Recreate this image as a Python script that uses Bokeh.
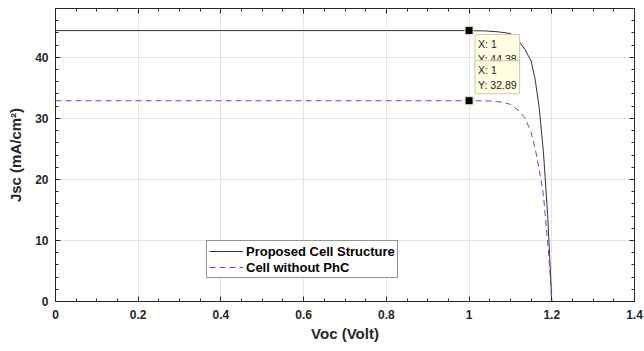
from bokeh.plotting import figure
from bokeh.models import (Label, LinearAxis, FixedTicker, NumeralTickFormatter,
                          Range1d, ColumnDataSource)
from bokeh.embed import file_html
from bokeh.resources import INLINE

# ---- data ----
voc_proposed = [0.0, 0.2, 0.4, 0.6, 0.8, 0.9, 1.0, 1.04, 1.07, 1.10, 1.12, 1.135,
                1.15, 1.16, 1.17, 1.18, 1.19, 1.195, 1.2]
jsc_proposed = [44.38, 44.38, 44.38, 44.38, 44.38, 44.38, 44.38, 44.32, 44.18, 43.9,
                42.7, 41.3, 39.4, 36.3, 31.5, 24.3, 14.2, 7.2, 0.0]

voc_nophc = [0.0, 0.2, 0.4, 0.6, 0.8, 0.9, 1.0, 1.05, 1.08, 1.10, 1.12, 1.135,
             1.15, 1.16, 1.17, 1.18, 1.185, 1.19, 1.195, 1.2]
jsc_nophc = [32.89, 32.89, 32.89, 32.89, 32.89, 32.89, 32.89, 32.85, 32.65, 32.3,
             31.3, 30.1, 27.7, 25.0, 21.5, 17.3, 13.5, 9.8, 5.5, 0.0]

tip_x = [1, 1]
tip_y = [44.38, 32.89]

x_ticks = [0, 0.2, 0.4, 0.6, 0.8, 1.0, 1.2, 1.4]
y_ticks = [0, 10, 20, 30, 40]

series_names = ["Proposed Cell Structure", "Cell without PhC"]
x_label = "Voc (Volt)"
y_label = "Jsc (mA/cm\u00b2)"

FONT = "Liberation Sans"
DARK = "#262626"

x_minor = [round(i * 0.05, 2) for i in range(0, 29)]
y_minor = [i * 2 for i in range(0, 25)]

p = figure(width=644, height=351, x_range=Range1d(0, 1.4), y_range=Range1d(0, 48),
           output_backend="svg", toolbar_location=None,
           min_border_left=55, min_border_right=10, min_border_top=8, min_border_bottom=50)
p.background_fill_color = "white"
p.border_fill_color = "white"
p.outline_line_color = DARK
p.outline_line_width = 1

xt = FixedTicker(ticks=x_ticks, minor_ticks=x_minor)
yt = FixedTicker(ticks=y_ticks, minor_ticks=y_minor)

p.xaxis.ticker = xt
p.yaxis.ticker = yt
p.xaxis.formatter = NumeralTickFormatter(format="0.[0]")
p.xgrid.ticker = xt
p.ygrid.ticker = yt
p.grid.grid_line_color = "#e3e3e3"
p.grid.grid_line_width = 1

for ax in (p.xaxis[0], p.yaxis[0]):
    ax.axis_line_color = DARK
    ax.major_tick_line_color = DARK
    ax.minor_tick_line_color = DARK
    ax.major_tick_in = 5
    ax.major_tick_out = 0
    ax.minor_tick_in = 3
    ax.minor_tick_out = 0
    ax.major_label_text_font = FONT
    ax.major_label_text_font_style = "bold"
    ax.major_label_text_font_size = "12px"
    ax.major_label_text_color = DARK
    ax.axis_label_text_font = FONT
    ax.axis_label_text_font_style = "bold"
    ax.axis_label_text_font_size = "15px"
    ax.axis_label_text_color = DARK

p.xaxis.axis_label = x_label
p.yaxis.axis_label = y_label
p.xaxis.major_label_standoff = 8
p.xaxis.axis_label_standoff = 3
p.yaxis.major_label_standoff = 7
p.yaxis.axis_label_standoff = 8

# mirrored tick axes (top, right)
for loc, tk in (("above", xt), ("right", yt)):
    ax = LinearAxis(ticker=tk)
    ax.axis_line_color = DARK
    ax.major_tick_line_color = DARK
    ax.minor_tick_line_color = DARK
    ax.major_tick_in = 5
    ax.major_tick_out = 0
    ax.minor_tick_in = 3
    ax.minor_tick_out = 0
    ax.major_label_text_font_size = "0px"
    ax.major_label_standoff = 0
    ax.major_label_text_alpha = 0
    p.add_layout(ax, loc)

src1 = ColumnDataSource(dict(x=voc_proposed, y=jsc_proposed))
src2 = ColumnDataSource(dict(x=voc_nophc, y=jsc_nophc))
p.line("x", "y", source=src1, line_color="#333333", line_width=1,
       legend_label=series_names[0])
p.line("x", "y", source=src2, line_color="#4a4aff", line_width=1, line_dash="6 4",
       legend_label=series_names[1])

p.scatter(tip_x, tip_y, marker="square", size=8, fill_color="black",
          line_color="#e6e6b0", line_width=1)

# data tips
offsets = [(6, -4), (6, 7)]
for (tx, ty), (dx, dy), base in zip(zip(tip_x, tip_y), offsets, ["top", "bottom"]):
    lbl = Label(x=tx, y=ty, x_offset=dx, y_offset=dy,
                text=f"X: {tx:g}\nY: {ty:.2f}",
                text_font=FONT, text_font_size="10.5px", text_color="#1a1a1a",
                text_align="left", text_baseline=base, text_line_height=1.25,
                background_fill_color="#ffffe1", border_line_color="#c8c8b8",
                border_line_width=1, padding=3)
    p.add_layout(lbl)

lg = p.legend[0]
lg.location = (151, 23)
lg.margin = 0
lg.padding = 2
lg.spacing = 0
lg.label_text_font = FONT
lg.label_text_font_style = "bold"
lg.label_text_font_size = "13px"
lg.label_text_color = "black"
lg.label_standoff = 3
lg.glyph_width = 34
lg.glyph_height = 16
lg.label_height = 16
lg.border_line_color = DARK
lg.border_line_width = 1
lg.background_fill_color = "white"
lg.background_fill_alpha = 1

open("out.html", "w").write(file_html(p, INLINE))
